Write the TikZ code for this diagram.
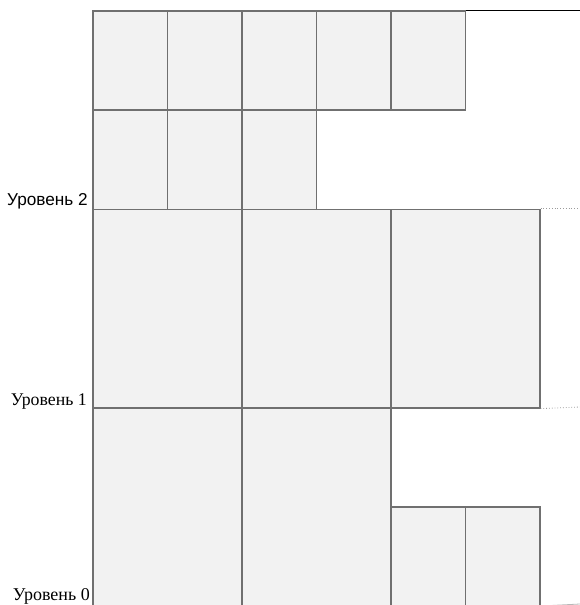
\documentclass[tikz,border=0pt]{standalone}
\usepackage{fontspec}
\newfontfamily\sanslabel{Liberation Sans}
\newfontfamily\seriflabel{Liberation Serif}
\usepackage{xcolor}
\usepackage{tikz}
\usetikzlibrary{positioning}

\definecolor{boxfill}{HTML}{F2F2F2}
\definecolor{boxline}{HTML}{707070}

\begin{document}
\begin{tikzpicture}[x=1pt, y=-1pt,
    cell/.style={draw=boxline, fill=boxfill, line width=1.6pt, inner sep=0pt,
      anchor=north west, minimum width=74.5pt, minimum height=99.2pt},
    bigcell/.style={cell, minimum width=149pt, minimum height=198.4pt},
    levelline/.style={boxline!70, line width=0.8pt, dotted},
    lvl/.style={anchor=base east, inner sep=0pt}]
  \useasboundingbox (0,0) rectangle (580,605);
  % level 0
  \node[bigcell] (b1) at (92, 407) {};
  \node[bigcell] (b2) at (241, 407) {};
  \node[cell] (c1) at (390, 506.2) {};
  \node[cell] (c2) at (464.5, 506.2) {};
  % level 1
  \foreach \i in {1,2,3}
    \node[bigcell] (m\i) at (92+149*\i-149, 208.6) {};
  % level 2
  \foreach \i in {1,2,3}
    \node[cell] (s\i) at (92+74.5*\i-74.5, 109.4) {};
  \foreach \i in {1,...,5}
    \node[cell] (t\i) at (92+74.5*\i-74.5, 10.2) {};
  % right edge
  \coordinate (e0) at (580, 604);
  \coordinate (e1) at (580, 407);
  \coordinate (e2) at (580, 208.6);
  \coordinate (e3) at (580, 10.2);
  \draw[black, line width=1pt] (t5.north east) -- (e3);
  \draw[levelline] (m3.north east) -- (e2);
  \draw[levelline] (m3.south east) -- (e1);
  \draw[boxline!50, line width=0.8pt] (c2.south east) ++(0,-1) -- (e0);
  % labels
  \node[lvl, font=\sanslabel\fontsize{17.2}{19}\selectfont] (l2) at (88, 205) {Уровень 2};
  \node[lvl, font=\seriflabel\fontsize{17.8}{19}\selectfont] (l1) at (87, 405) {Уровень 1};
  \node[lvl, font=\seriflabel\fontsize{18}{19}\selectfont] (l0) at (90, 600) {Уровень 0};
\end{tikzpicture}
\end{document}
